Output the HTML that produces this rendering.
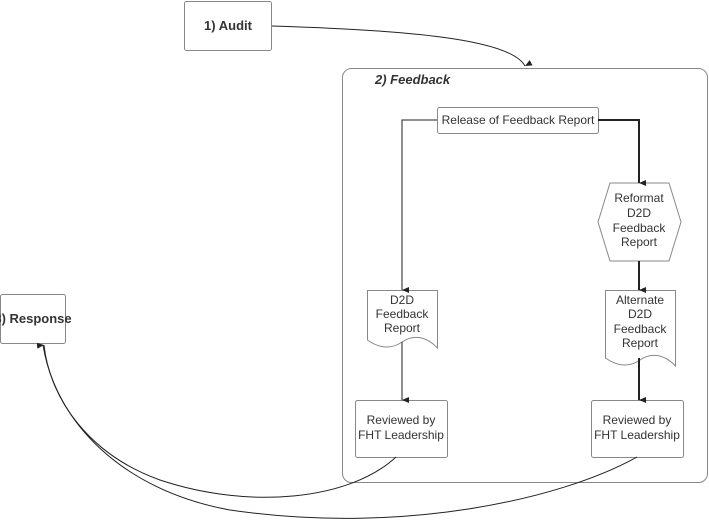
<!DOCTYPE html>
<html><head><meta charset="utf-8"><style>
html,body{margin:0;padding:0;background:#fff;}
svg{display:block;font-family:"Liberation Sans",sans-serif;}
</style></head><body>
<svg width="709" height="523" viewBox="0 0 709 523" xmlns="http://www.w3.org/2000/svg">
<defs>
<marker id="a" markerWidth="8" markerHeight="8" refX="4" refY="7" orient="auto" markerUnits="userSpaceOnUse">
<path d="M1,0 L4,7 L7,0 Z" fill="#222" transform="rotate(0)"/></marker>
</defs>
<g fill="#fff" stroke="#888" stroke-width="1">
<rect x="184.5" y="1.5" width="87" height="49" rx="2"/>
<rect x="342.5" y="68.5" width="365" height="414" rx="9"/>
<rect x="437.5" y="107.5" width="161" height="26" rx="2"/>
<polygon points="610,183 669,183 681,222 669,261 610,261 598,222"/>
<path d="M367.5,290.5 H437.5 V348 C425,335 412,335 402,342 C392,349 380,349 367.5,340 Z"/>
<path d="M605.5,290.5 H675.5 V366 C663,353 650,353 640,360 C630,367 618,367 605.5,358 Z"/>
<rect x="355.5" y="400.5" width="92" height="57" rx="2"/>
<rect x="591.5" y="400.5" width="92" height="57" rx="2"/>
<rect x="0.5" y="294.5" width="65" height="49" rx="2"/>
</g>
<g fill="none" stroke="#222">
<path d="M272,26 C400,30 510,38 525,66" marker-end="url(#a)"/>
<path d="M437,120 H402 V290" marker-end="url(#a)"/>
<path d="M598,120 H639 V183" stroke-width="2" marker-end="url(#a)"/>
<path d="M639,261 V290" stroke-width="2" marker-end="url(#a)"/>
<path d="M402,342 V400" marker-end="url(#a)"/>
<path d="M639,358 V400" stroke-width="2" marker-end="url(#a)"/>
<path d="M396,457 C350,500 250,510 160,480 C90,455 50,400 44,345" marker-end="url(#a)"/>
<path d="M637,457 C560,500 400,535 230,510 C120,490 55,420 43,345"/>
</g>
<g fill="#333" font-size="12" text-anchor="middle">
<text x="228" y="30" font-weight="bold" font-size="13">1) Audit</text>
<text x="33" y="323" font-weight="bold" font-size="13">3) Response</text>
<text x="375" y="84" text-anchor="start" font-weight="bold" font-style="italic" font-size="13">2) Feedback</text>
<text x="518" y="124">Release of Feedback Report</text>
<text x="639" y="202">Reformat</text><text x="639" y="217">D2D</text><text x="639" y="232">Feedback</text><text x="639" y="246">Report</text>
<text x="402" y="304">D2D</text><text x="402" y="318">Feedback</text><text x="402" y="332">Report</text>
<text x="640" y="304">Alternate</text><text x="640" y="318">D2D</text><text x="640" y="333">Feedback</text><text x="640" y="347">Report</text>
<text x="401" y="424">Reviewed by</text><text x="401" y="439">FHT Leadership</text>
<text x="637" y="424">Reviewed by</text><text x="637" y="439">FHT Leadership</text>
</g>
</svg>
</body></html>
